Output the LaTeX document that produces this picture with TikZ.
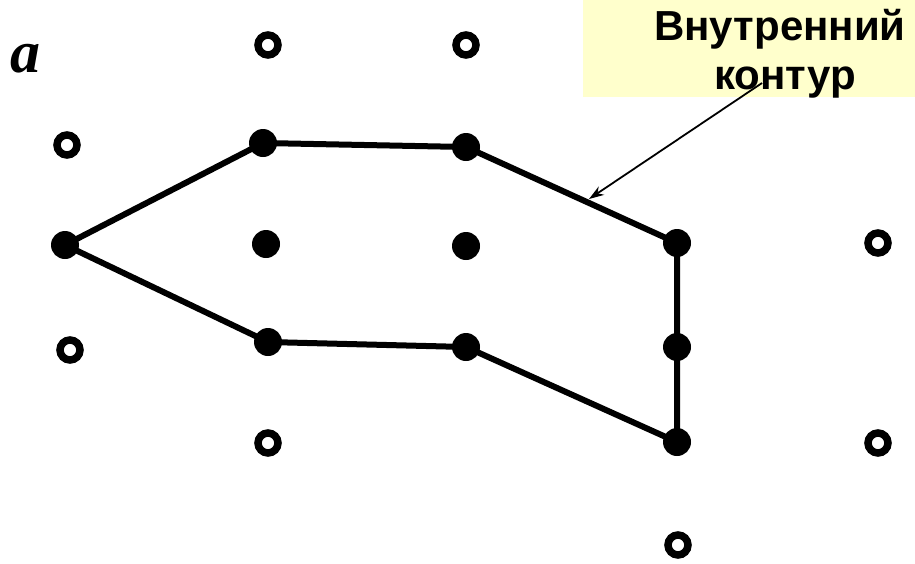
\documentclass[tikz,border=0pt]{standalone}
\usepackage{fontspec}
\setmainfont{Liberation Sans}
\newfontfamily\letterfont{Liberation Serif}
\usetikzlibrary{arrows.meta}
\definecolor{notefill}{RGB}{255,255,204}

\begin{document}
\begin{tikzpicture}[x=1pt,y=-1pt,
  hole/.style={circle, draw=black, line width=7.5pt, minimum size=20pt, inner sep=0pt},
  dot/.style={circle, fill=black, minimum size=28pt, inner sep=0pt},
  edge/.style={line width=6pt, line join=round},
  note/.style={font=\fontsize{42}{45}\selectfont\bfseries, inner sep=0pt, anchor=base}
]
\useasboundingbox (0,0) rectangle (915,563);

% label panel
\fill[notefill] (583,0) rectangle (915,97);
\node[note] (t1) at (780,40) {Внутренний};
\node[note] (t2) at (785,89) {контур};

% panel letter
\node[font=\fontsize{60}{62}\selectfont\letterfont\bfseries\itshape, inner sep=0pt, anchor=base] (lbl) at (25,72) {a};

% open lattice sites
\node[hole] (o1) at (268,45) {};
\node[hole] (o2) at (466,45) {};
\node[hole] (o3) at (67,145) {};
\node[hole] (o4) at (878,243) {};
\node[hole] (o5) at (70,350) {};
\node[hole] (o6) at (268,443) {};
\node[hole] (o7) at (878,443) {};
\node[hole] (o8) at (678,545) {};

% filled sites
\node[dot] (p1) at (65,245) {};
\node[dot] (p2) at (263,143) {};
\node[dot] (p3) at (466,147) {};
\node[dot] (p4) at (677,243) {};
\node[dot] (p5) at (677,347) {};
\node[dot] (p6) at (677,442) {};
\node[dot] (p7) at (466,347) {};
\node[dot] (p8) at (268,342) {};
\node[dot] (c1) at (266,244) {};
\node[dot] (c2) at (466,246) {};

% contour
\draw[edge] (p1.center) -- (p2.center) -- (p3.center) -- (p4.center) -- (p5.center)
  -- (p6.center) -- (p7.center) -- (p8.center) -- cycle;

% pointer to the contour
\coordinate (src) at (762,83);
\coordinate (tip) at (589,199);
\draw[line width=1.8pt, -{Stealth[length=15pt, width=10pt]}] (src) -- (tip);
\end{tikzpicture}
\end{document}
